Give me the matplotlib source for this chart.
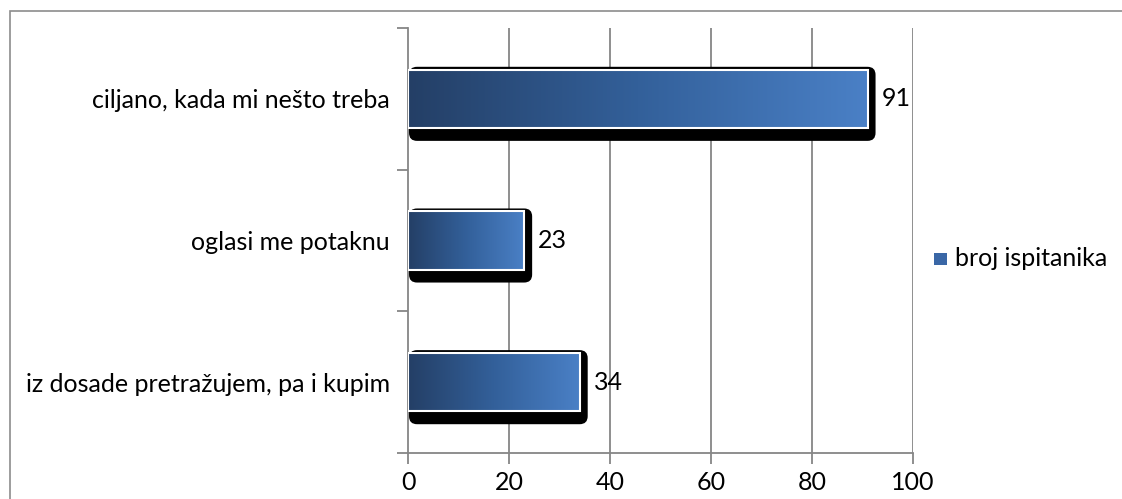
import matplotlib
matplotlib.use("Agg")
import matplotlib.pyplot as plt
import numpy as np
from matplotlib.patches import Rectangle, FancyBboxPatch
from matplotlib.colors import LinearSegmentedColormap
from matplotlib.transforms import IdentityTransform

categories = ["ciljano, kada mi nešto treba", "oglasi me potaknu", "iz dosade pretražujem, pa i kupim"]
values = [91, 23, 34]
series_name = "broj ispitanika"
x_ticks = [0, 20, 40, 60, 80, 100]

plt.rcParams['font.family'] = ['Lato', 'DejaVu Sans']
FS = 18
DPI = 100
W, H = 1122, 499
fig = plt.figure(figsize=(W / DPI, H / DPI), dpi=DPI)
fig.patch.set_facecolor("white")

# outer border
fig.add_artist(Rectangle((10 / W, -0.1), 1.2, (H - 11) / H + 0.1, transform=fig.transFigure,
                         fill=False, edgecolor="#8c8c8c", linewidth=1.2))

left, right, top, bottom = 408, 913, 28, 453
ax = fig.add_axes([left / W, (H - bottom) / H, (right - left) / W, (bottom - top) / H])
ax.set_xlim(0, 100)
ax.set_ylim(-0.5, 2.5)
n = len(categories)
ypos = [n - 1 - i for i in range(n)]

grid_c = "#868686"
for s in ["top", "right"]:
    ax.spines[s].set_visible(False)
for s in ["left", "bottom"]:
    ax.spines[s].set_color(grid_c)
    ax.spines[s].set_linewidth(1.3)
ax.set_xticks(x_ticks)
ax.set_xticklabels([str(t) for t in x_ticks], fontsize=FS)
ax.tick_params(axis="x", length=8, width=1.3, color=grid_c, pad=5)
for t in x_ticks[1:]:
    ax.axvline(t, color=grid_c, linewidth=1.3, zorder=0)

ax.set_yticks([-0.5, 0.5, 1.5, 2.5])
ax.set_yticklabels([])
ax.tick_params(axis="y", which="major", length=8, width=1.3, color=grid_c)
ax.set_yticks(ypos, minor=True)
ax.set_yticklabels(categories, minor=True, fontsize=FS)
ax.tick_params(axis="y", which="minor", length=0, pad=13)

cmap = LinearSegmentedColormap.from_list("g", ["#243f66", "#33609a", "#4a80c6"])
grad = np.linspace(0, 1, 256).reshape(1, -1)
bh = 0.41

fig.canvas.draw()
tr = ax.transData
for y, v in zip(ypos, values):
    (x0p, y0p) = tr.transform((0, y - bh / 2))
    (x1p, y1p) = tr.transform((v, y + bh / 2))
    # shadow in pixel coords
    sh = FancyBboxPatch((x0p + 1, y0p - 13), (x1p - x0p) + 7, (y1p - y0p) + 16,
                        boxstyle="round,pad=0,rounding_size=8", transform=IdentityTransform(),
                        facecolor="black", edgecolor="none", zorder=2, clip_on=False)
    ax.add_artist(sh)
    ax.imshow(grad, cmap=cmap, aspect="auto", extent=(0, v, y - bh / 2, y + bh / 2),
              zorder=3, interpolation="bicubic")
    ax.add_patch(Rectangle((0, y - bh / 2), v, bh, facecolor="none", edgecolor="white",
                           linewidth=1.5, zorder=4))
    ax.annotate(str(v), (v, y), xytext=(10, 0), textcoords="offset points",
                va="center", ha="left", fontsize=FS, zorder=5)
ax.set_xlim(0, 100)
ax.set_ylim(-0.5, 2.5)

# legend
lx, ly = 934, 259
fig.add_artist(Rectangle((lx / W, (H - ly - 6) / H), 13 / W, 12 / H, transform=fig.transFigure,
                         facecolor="#3a67a6", edgecolor="none"))
fig.text(955 / W, (H - ly) / H, series_name, fontsize=FS, va="center", ha="left")

fig.savefig("out.png", dpi=DPI)
